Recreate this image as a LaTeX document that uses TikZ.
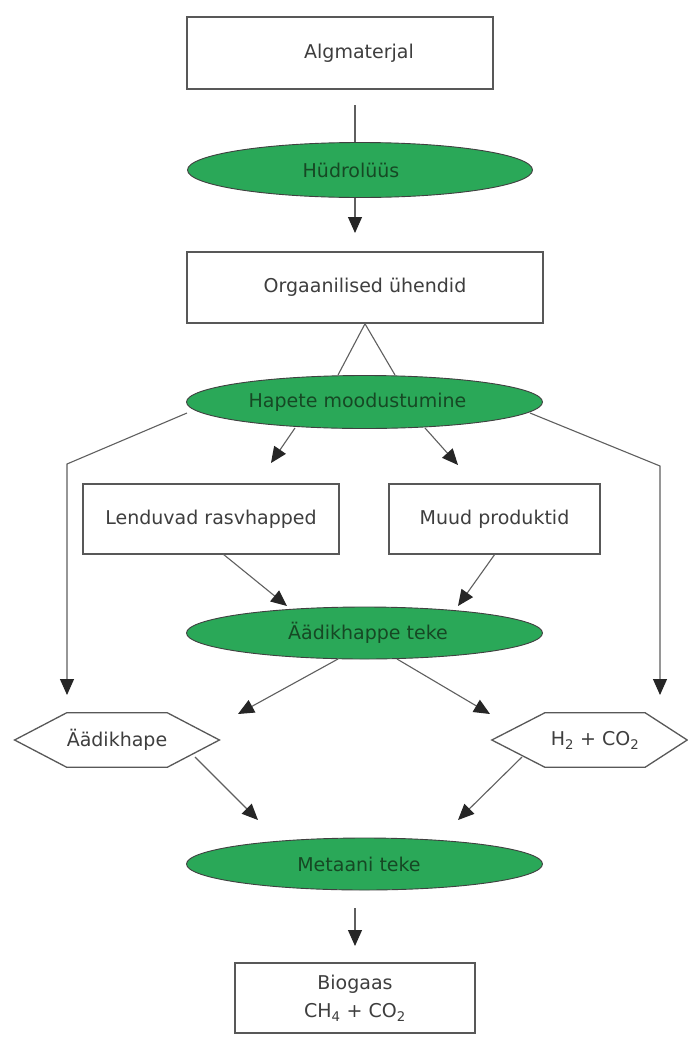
\documentclass[tikz,border=0pt]{standalone}
\usepackage{fontspec}
\setmainfont{DejaVu Sans}
\usetikzlibrary{arrows.meta,shapes.geometric}
\definecolor{elfill}{RGB}{42,168,88}
\definecolor{eltext}{RGB}{22,72,36}
\definecolor{boxline}{RGB}{88,88,88}
\definecolor{txt}{RGB}{62,62,62}
\definecolor{conn}{RGB}{95,95,95}
\begin{document}
\begin{tikzpicture}[x=1pt,y=-1pt,
  font=\fontsize{19}{23}\selectfont,
  box/.style={rectangle, draw=boxline, line width=1.6pt, fill=white, text=txt, inner sep=0pt},
  proc/.style={ellipse, draw=black!75, line width=0.9pt, fill=elfill, text=eltext, inner sep=0pt},
  hexcore/.style={rectangle, inner sep=0pt, text=txt},
  hexline/.style={draw=boxline, line width=1.3pt},
  link/.style={draw=conn, line width=1.1pt},
  arr/.style={link, -{Triangle[width=14pt,length=16pt,color=black!85]}}]
\useasboundingbox (0,0) rectangle (688,1039);
\fill[white] (0,0) rectangle (688,1039);

% nodes
\node[box, minimum width=306pt, minimum height=72pt] (alg) at (340,53) {\hspace*{38pt}Algmaterjal};
\node[proc, minimum width=345pt, minimum height=55pt] (hyd) at (360,170) {Hüdrolüüs\hspace*{18pt}};
\node[box, minimum width=356pt, minimum height=71pt] (org) at (365,287.5) {Orgaanilised ühendid};
\node[proc, minimum width=356pt, minimum height=53pt] (hap) at (364.5,402) {Hapete moodustumine\hspace*{14pt}};
\node[box, minimum width=256pt, minimum height=70pt] (len) at (211,519) {Lenduvad rasvhapped};
\node[box, minimum width=211pt, minimum height=70pt] (muu) at (494.5,519) {Muud produktid};
\node[proc, minimum width=356pt, minimum height=52pt] (aad) at (364.5,633) {\hspace*{7pt}Äädikhappe teke};
\node[hexcore, minimum width=100pt, minimum height=54pt] (ahx) at (117,740) {Äädikhape};
\node[hexcore, minimum width=100pt, minimum height=54pt] (hco) at (595,740) {H\textsubscript{2} + CO\textsubscript{2}};
\node[proc, minimum width=356pt, minimum height=52pt] (met) at (364.5,864) {Metaani teke\hspace*{11pt}};
\node[box, minimum width=240pt, minimum height=70pt, align=center, font=\fontsize{19}{28}\selectfont] (bio) at (355,998) {Biogaas\\CH\textsubscript{4} + CO\textsubscript{2}};

% hexagon outlines
\draw[hexline] (ahx.north west) -- (ahx.north east) -- ([xshift=52pt]ahx.east) -- (ahx.south east) -- (ahx.south west) -- ([xshift=-52pt]ahx.west) -- cycle;
\draw[hexline] (hco.north west) -- (hco.north east) -- ([xshift=42pt]hco.east) -- (hco.south east) -- (hco.south west) -- ([xshift=-53pt]hco.west) -- cycle;

% coordinates
\coordinate (a1s) at (355,105);
\coordinate (a1e) at (355,233);
\coordinate (hapL) at (338,375);
\coordinate (hapR) at (395,375);
\coordinate (hapW) at (187,413);
\coordinate (kL) at (67,464);
\coordinate (tL) at (67,695);
\coordinate (hapE) at (530,413);
\coordinate (kR) at (660,466);
\coordinate (tR) at (660,695);
\coordinate (hapBL) at (295,428);
\coordinate (tLen) at (271,463);
\coordinate (hapBR) at (425,428);
\coordinate (tMuu) at (458,465);
\coordinate (lenB) at (223,554);
\coordinate (muuB) at (495,554);
\coordinate (tA1) at (287,606);
\coordinate (tA2) at (458,606);
\coordinate (aadBL) at (338,659);
\coordinate (aadBR) at (397,659);
\coordinate (tAhx) at (238,714);
\coordinate (tHco) at (490,714);
\coordinate (ahxB) at (195,757);
\coordinate (hcoB) at (522,757);
\coordinate (tM1) at (258,820);
\coordinate (tM2) at (458,820);
\coordinate (metB) at (355,908);
\coordinate (tBio) at (355,946);

% connectors
\draw[link] (a1s) -- (a1s |- hyd.north);
\draw[arr] (a1s |- hyd.south) -- (a1e);
\draw[link] (hapL) -- (org.south) -- (hapR);
\draw[arr] (hapW) -- (kL) -- (tL);
\draw[arr] (hapE) -- (kR) -- (tR);
\draw[arr] (hapBL) -- (tLen);
\draw[arr] (hapBR) -- (tMuu);
\draw[arr] (lenB) -- (tA1);
\draw[arr] (muuB) -- (tA2);
\draw[arr] (aadBL) -- (tAhx);
\draw[arr] (aadBR) -- (tHco);
\draw[arr] (ahxB) -- (tM1);
\draw[arr] (hcoB) -- (tM2);
\draw[arr] (metB) -- (tBio);
\end{tikzpicture}
\end{document}
